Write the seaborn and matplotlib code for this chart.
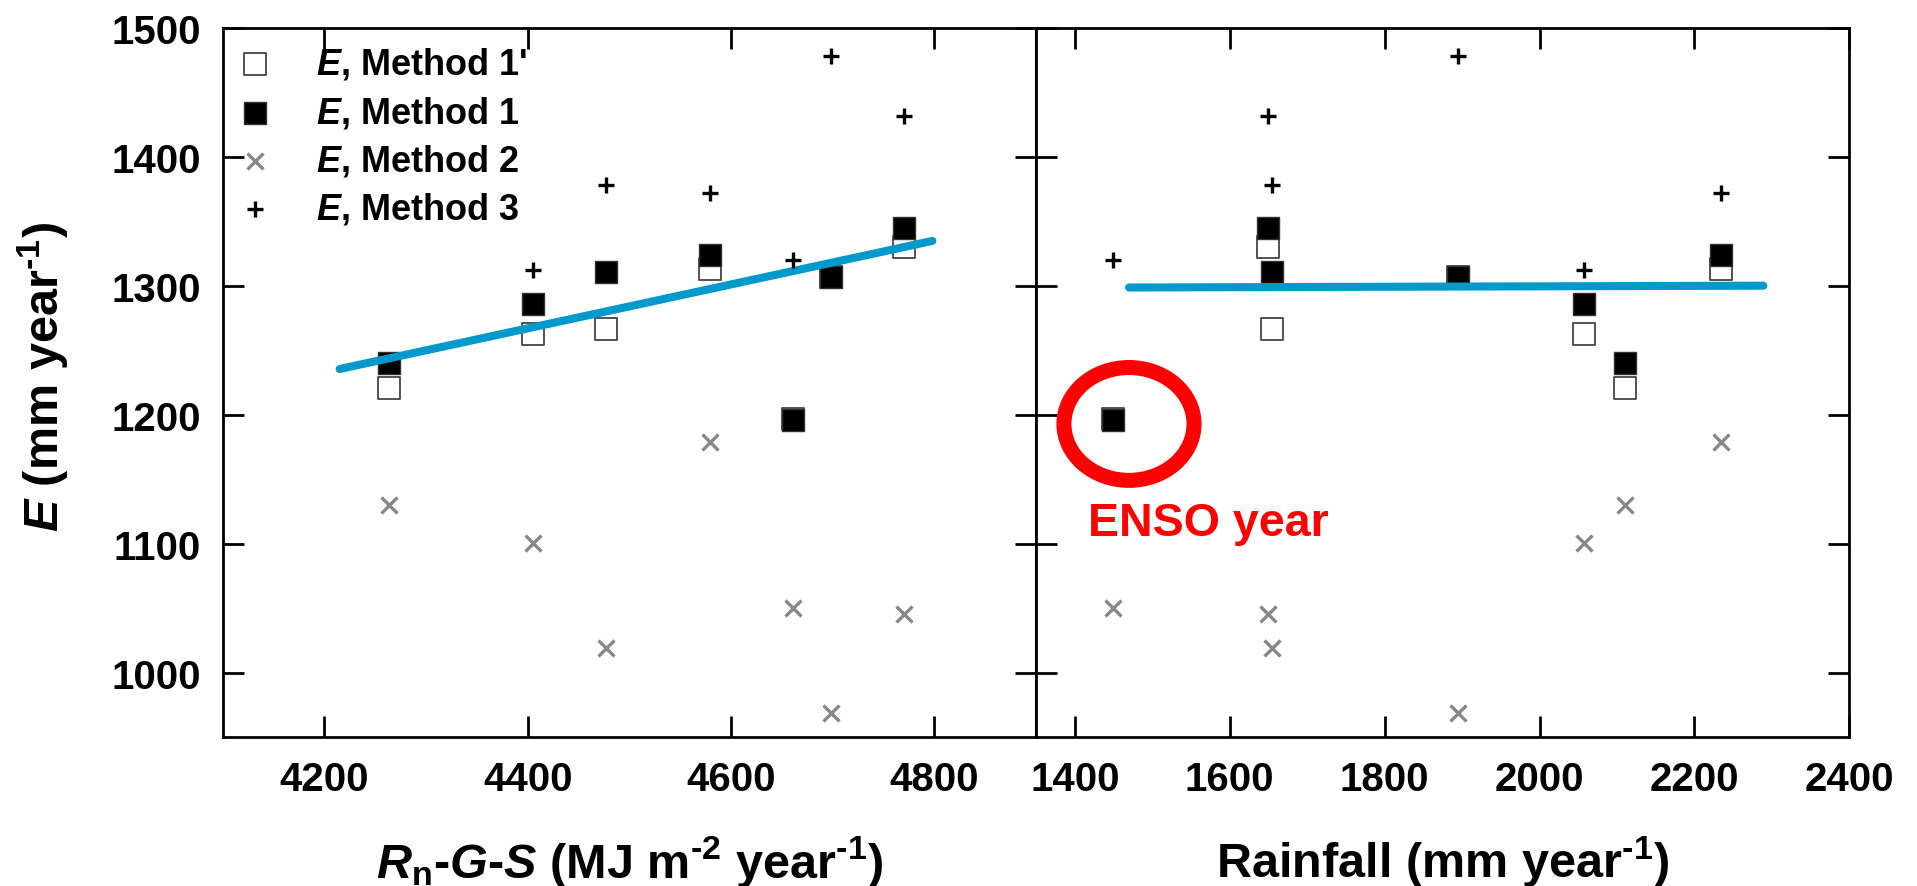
import numpy as np
import pandas as pd
import matplotlib
matplotlib.use("Agg")
import matplotlib.pyplot as plt
from matplotlib.patches import Ellipse
import seaborn as sns

# ---------------- data ----------------
rn_g_s = [4264, 4405, 4477, 4579, 4661, 4698, 4770]          # MJ m-2 year-1
rainfall = [2110, 2058, 1655, 2234, 1450, 1895, 1650]        # mm year-1
e_method1p = [1221, 1263, 1267, 1313, 1197, 1307, 1330]
e_method1 = [1240, 1286, 1311, 1324, 1196, 1307, 1345]
e_method2 = [1130, 1101, 1019, 1179, 1050, 969, 1046]
e_method3 = [np.nan, 1312, 1378, 1372, 1320, 1478, 1432]

fit_left_x = [4215, 4798]
fit_left_y = [1235.6, 1334.9]
fit_right_x = [1470, 2289]
fit_right_y = [1298.8, 1300.2]

enso_x = 1470
enso_y = 1193

left_xticks = [4200, 4400, 4600, 4800]
right_xticks = [1400, 1600, 1800, 2000, 2200, 2400]
yticks = [1000, 1100, 1200, 1300, 1400, 1500]

df = pd.DataFrame({"rn": rn_g_s, "rain": rainfall, "m1p": e_method1p,
                   "m1": e_method1, "m2": e_method2, "m3": e_method3})

# ---------------- style ----------------
sns.set_theme(style="ticks")
plt.rcParams["font.family"] = ["Liberation Sans", "DejaVu Sans"]
plt.rcParams["font.weight"] = "bold"
plt.rcParams["text.color"] = "black"
plt.rcParams["axes.labelcolor"] = "black"
plt.rcParams["xtick.color"] = "black"
plt.rcParams["ytick.color"] = "black"
plt.rcParams["axes.edgecolor"] = "black"
plt.rcParams["mathtext.fontset"] = "custom"
plt.rcParams["mathtext.rm"] = "Liberation Sans:bold"
plt.rcParams["mathtext.it"] = "Liberation Sans:italic:bold"
plt.rcParams["mathtext.bf"] = "Liberation Sans:bold"

fig, (ax1, ax2) = plt.subplots(1, 2, figsize=(19.17, 8.87), dpi=100, sharey=True)
fig.subplots_adjust(left=0.1162, right=0.9647, bottom=0.1676, top=0.9673, wspace=0)

sq = 16.5 ** 2
cr = 11.5 ** 2
blue = "#0099CC"

labels = ["$E$, Method 1'", "$E$, Method 1", "$E$, Method 2", "$E$, Method 3"]

for ax, xcol, fx, fy in [(ax1, "rn", fit_left_x, fit_left_y),
                         (ax2, "rain", fit_right_x, fit_right_y)]:
    sns.scatterplot(data=df, x=xcol, y="m1p", ax=ax, marker="s", s=sq,
                    color="white", edgecolor="#444444", linewidth=1.3,
                    label=labels[0], zorder=3)
    sns.scatterplot(data=df, x=xcol, y="m1", ax=ax, marker="s", s=sq,
                    color="black", edgecolor="#333333", linewidth=1.0,
                    label=labels[1], zorder=4)
    sns.scatterplot(data=df, x=xcol, y="m2", ax=ax, marker="x", s=cr,
                    color="#888888", linewidth=2.4, label=labels[2], zorder=4)
    sns.scatterplot(data=df, x=xcol, y="m3", ax=ax, marker="+", s=cr,
                    color="black", linewidth=2.4, label=labels[3], zorder=6)
    sns.lineplot(x=fx, y=fy, ax=ax, color=blue, linewidth=5.8, zorder=5,
                 legend=False)

# ---------------- axes ----------------
ax1.set_xlim(4100, 4900)
ax2.set_xlim(1350, 2400)
ax1.set_ylim(950, 1500)
ax1.set_xticks(left_xticks)
ax2.set_xticks(right_xticks)
ax1.set_yticks(yticks)

for ax in (ax1, ax2):
    for s in ax.spines.values():
        s.set_visible(True)
        s.set_linewidth(2.0)
        s.set_color("black")
    ax.tick_params(axis="both", which="major", direction="in", length=15,
                   width=2.0, color="black", labelcolor="black", labelsize=29,
                   pad=16, top=True, right=True, bottom=True, left=True)
    for lab in ax.get_xticklabels() + ax.get_yticklabels():
        lab.set_fontweight("bold")
ax2.tick_params(axis="y", labelleft=False)

sup1 = r"$^{\text{-}1}$"
sup2 = r"$^{\text{-}2}$"
ax1.set_xlabel(r"$R_{\mathrm{n}}$-$G$-$S$ (MJ m" + sup2 + " year" + sup1 + ")",
               fontsize=35, fontweight="bold", color="black")
ax2.set_xlabel("Rainfall (mm year" + sup1 + ")", fontsize=35,
               fontweight="bold", color="black")
ax1.set_ylabel("$E$ (mm year" + sup1 + ")", fontsize=35, fontweight="bold",
               color="black")
ax2.set_ylabel("")
for ax in (ax1, ax2):
    ax.xaxis.label.set_va("baseline")
    ax.xaxis.set_label_coords(0.5, -0.197)
ax1.yaxis.set_label_coords(-0.186, 0.51)

# legend
if ax2.get_legend() is not None:
    ax2.get_legend().remove()
handles, labs = ax1.get_legend_handles_labels()
leg = ax1.legend(handles, labs, loc="upper left",
                 bbox_to_anchor=(0.019, 0.975), borderaxespad=0, borderpad=0,
                 frameon=False, fontsize=26, handlelength=0.95,
                 handletextpad=1.2, labelspacing=0.34, markerscale=1.0)
for t in leg.get_texts():
    t.set_fontweight("bold")
    t.set_color("black")

# ENSO annotation
ax2.add_patch(Ellipse((enso_x, enso_y), width=168, height=87.5,
                      fill=False, edgecolor="#FF0000", linewidth=10.8,
                      zorder=7))
ax2.text(1417, 1107, "ENSO year", color="#FF0000", fontsize=33.5,
         fontweight="bold", va="baseline", ha="left", zorder=7)

fig.savefig("out.png", dpi=100)
